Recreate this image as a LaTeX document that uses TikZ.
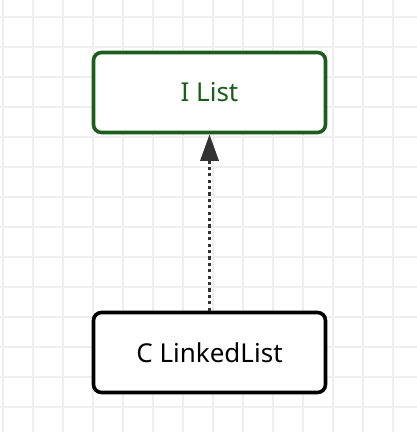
\documentclass[tikz,border=0pt]{standalone}
\usepackage{fontspec}
\setmainfont{Noto Sans}
\usetikzlibrary{arrows.meta}
\definecolor{ifacegreen}{HTML}{1E5C1E}
\definecolor{gridgray}{HTML}{EFEFEF}
\definecolor{arrowgray}{HTML}{333333}
\begin{document}
\begin{tikzpicture}[x=0.75pt,y=-0.75pt,
                    classbox/.style={draw,line width=2.7pt,rounded corners=6pt,fill=white,
                                     minimum width=174pt,minimum height=60pt,
                                     font=\fontsize{19.5}{22}\selectfont}]
  \useasboundingbox (0,0) rectangle (417,432);
  % background grid
  \foreach \gx in {3,33,...,417}
    \draw[gridgray,line width=1.2pt] (\gx,0) -- (\gx,432);
  \foreach \gy in {17,47,...,432}
    \draw[gridgray,line width=1.2pt] (0,\gy) -- (417,\gy);
  \node[classbox,draw=ifacegreen,text=ifacegreen] (ilist) at (209.5,92.5) {I List};
  \node[classbox] (linkedlist) at (209.5,352.5) {C LinkedList};
  \draw[arrowgray,line width=2.7pt,dash pattern=on 2.4pt off 2.4pt,
        -{Triangle[length=20pt,width=13.5pt]}] (linkedlist) -- (ilist);
\end{tikzpicture}
\end{document}
